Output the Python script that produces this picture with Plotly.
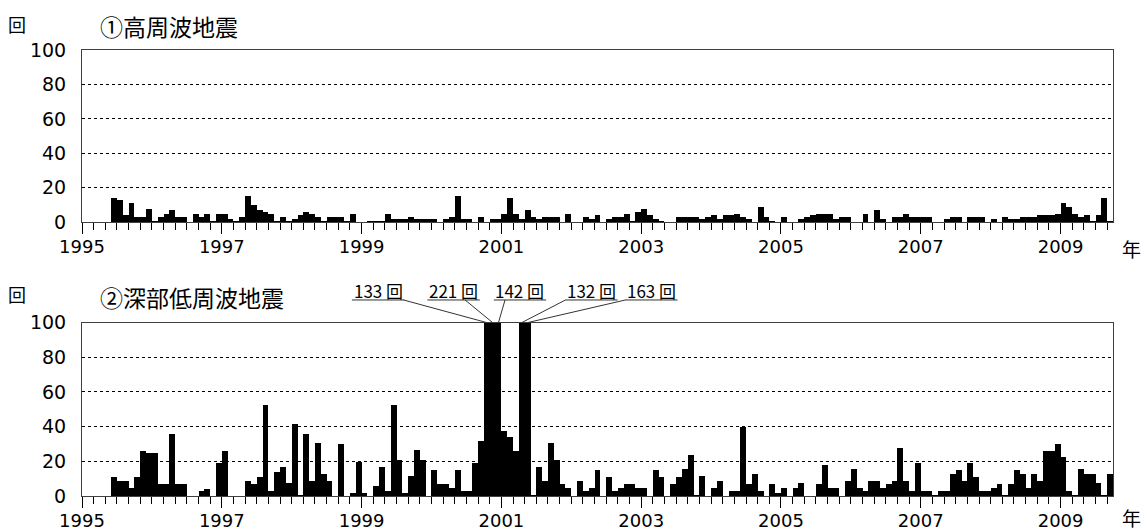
import plotly.graph_objects as go

# ---- data (monthly counts, starting June 1995) ----
start_year = 1995
start_month = 6

high_freq = [
    14, 13, 4, 11, 3, 3, 8, 1, 3, 5,
    7, 3, 3, 0, 5, 3, 5, 1, 5, 5,
    2, 1, 3, 15, 10, 7, 6, 5, 1, 3,
    1, 2, 4, 6, 5, 3, 1, 3, 3, 3,
    1, 5, 0, 0, 1, 1, 1, 5, 2, 2,
    2, 3, 2, 2, 2, 2, 0, 2, 3, 15,
    2, 2, 0, 3, 0, 2, 2, 5, 14, 5,
    2, 7, 3, 2, 3, 3, 3, 0, 5, 0,
    0, 3, 2, 4, 0, 2, 3, 3, 5, 1,
    6, 8, 4, 2, 1, 0, 0, 3, 3, 3,
    3, 2, 3, 4, 2, 4, 4, 5, 3, 2,
    0, 9, 3, 1, 0, 3, 0, 0, 2, 3,
    4, 5, 5, 5, 2, 3, 3, 0, 0, 5,
    0, 7, 2, 0, 3, 3, 5, 3, 3, 3,
    3, 0, 0, 2, 3, 3, 0, 3, 3, 3,
    0, 2, 0, 3, 2, 2, 3, 3, 3, 4,
    4, 4, 5, 11, 9, 5, 3, 4, 1, 4, 14, 1,
]

deep_low_freq = [
    11, 9, 9, 5, 11, 26, 25, 25, 7, 7,
    36, 7, 7, 0, 0, 3, 4, 0, 19, 26,
    0, 0, 0, 9, 7, 11, 53, 3, 14, 17,
    8, 42, 1, 36, 9, 31, 13, 9, 0, 30,
    0, 2, 20, 2, 0, 6, 17, 3, 53, 21,
    2, 12, 27, 21, 0, 15, 7, 7, 5, 15,
    3, 3, 19, 32, 133, 221, 142, 38, 34, 26,
    132, 163, 1, 17, 9, 31, 21, 7, 5, 0,
    9, 3, 5, 15, 0, 11, 3, 5, 7, 7,
    5, 5, 0, 15, 11, 0, 7, 11, 16, 24,
    1, 12, 0, 5, 9, 0, 3, 3, 40, 7,
    13, 3, 0, 7, 2, 5, 0, 5, 8, 0,
    0, 7, 18, 5, 5, 0, 9, 16, 5, 3,
    9, 9, 5, 7, 9, 28, 9, 3, 19, 3,
    3, 1, 3, 3, 13, 15, 9, 19, 11, 3,
    3, 5, 7, 1, 7, 15, 13, 5, 13, 9,
    26, 26, 30, 23, 3, 1, 16, 13, 13, 8, 1, 13,
]

year_ticks = [1995, 1997, 1999, 2001, 2003, 2005, 2007, 2009]
y_ticks = [0, 20, 40, 60, 80, 100]
title_top = "①高周波地震"
title_bottom = "②深部低周波地震"
unit_y = "回"
unit_x = "年"
y_max = 100

# ---- derived positions ----
x_months = [start_year + (start_month - 1 + i + 0.5) / 12 for i in range(len(high_freq))]

fig = go.Figure()
fig.add_trace(go.Bar(x=x_months, y=high_freq, width=1 / 12, marker=dict(color="black", line=dict(width=0)),
                     xaxis="x", yaxis="y", showlegend=False))
fig.add_trace(go.Bar(x=x_months, y=deep_low_freq, width=1 / 12, marker=dict(color="black", line=dict(width=0)),
                     xaxis="x2", yaxis="y2", showlegend=False))

num_font = dict(family="DejaVu Sans", size=19, color="black")
xnum_font = dict(family="DejaVu Sans", size=18, color="black")
jp_font = dict(family="Noto Sans CJK JP", size=23, color="black")
frame = "#404040"

xcommon = dict(
    type="linear", range=[1995, 2009.75], tickmode="array", tickvals=year_ticks,
    ticktext=[str(t) for t in year_ticks], ticks="outside", ticklen=11, tickwidth=1, tickcolor="black",
    minor=dict(tick0=1995, dtick=1 / 6, ticks="outside", ticklen=7, tickwidth=1, tickcolor="black", showgrid=False),
    showline=True, linecolor=frame, linewidth=1, mirror=True, showgrid=False, zeroline=False,
    tickfont=xnum_font, ticklabelstandoff=-3,
)
ycommon = dict(
    range=[0, y_max], tickmode="array", tickvals=y_ticks, ticks="outside", ticklen=11,
    tickcolor="rgba(0,0,0,0)", showline=True, linecolor=frame,
    linewidth=1, mirror=True, showgrid=True, gridcolor="black", griddash="3px,3px", gridwidth=1,
    zeroline=False, tickfont=num_font,
)

dom_top = [0.6137, 1.0]
dom_bot = [0.0, 0.3888]

fig.update_layout(
    width=1147, height=531, margin=dict(l=82, r=34, t=50, b=35, autoexpand=False),
    paper_bgcolor="white", plot_bgcolor="white", bargap=0, barmode="overlay",
    xaxis=dict(xcommon, domain=[0, 1], anchor="y"),
    yaxis=dict(ycommon, domain=dom_top, anchor="x"),
    xaxis2=dict(xcommon, domain=[0, 1], anchor="y2"),
    yaxis2=dict(ycommon, domain=dom_bot, anchor="x2"),
)

ann = []
ann.append(dict(text=title_top, x=0.0155, y=1.0538, xref="paper", yref="paper", xanchor="left",
                yanchor="middle", showarrow=False, font=jp_font))
ann.append(dict(text=title_bottom, x=0.0155, y=0.4462, xref="paper", yref="paper", xanchor="left",
                yanchor="middle", showarrow=False, font=jp_font))
for yy in (1.0583, 0.4529):
    ann.append(dict(text=unit_y, x=-0.063, y=yy, xref="paper", yref="paper", xanchor="center",
                    yanchor="middle", showarrow=False, font=dict(family="Noto Sans CJK JP", size=18, color="black")))
for yy in (0.556, -0.0493):
    ann.append(dict(text=unit_x, x=1.0175, y=yy, xref="paper", yref="paper", xanchor="center",
                    yanchor="middle", showarrow=False, font=dict(family="Noto Sans CJK JP", size=19, color="black")))

# labels for clipped bars
over_idx = [i for i, v in enumerate(deep_low_freq) if v > y_max]
label_centers = [1999.236, 2000.316, 2001.266, 2002.288, 2003.146]
leader_starts = [1999.600, 2000.480, 2001.052, 2001.917, 2002.775]
half_w = 0.375
label_y = 0.4603
line_y = 0.4395
shapes = []
for k, i in enumerate(over_idx):
    v = deep_low_freq[i]
    cx = label_centers[k]
    ann.append(dict(text=f"{v} 回", x=cx, y=label_y, xref="x2", yref="paper", xanchor="center",
                    yanchor="middle", showarrow=False,
                    font=dict(family="Noto Sans CJK JP", size=17, color="black")))
    shapes.append(dict(type="line", xref="x2", yref="paper", x0=cx - half_w, x1=cx + half_w,
                       y0=line_y, y1=line_y, line=dict(color="#333", width=1)))
    shapes.append(dict(type="line", xref="x2", yref="paper", x0=leader_starts[k], y0=line_y,
                       x1=x_months[i], y1=dom_bot[1], line=dict(color="#333", width=1)))

fig.update_layout(annotations=ann, shapes=shapes)
fig.write_html("out.html", config={"displayModeBar": False},
               post_script="document.body.style.margin='0';document.body.style.overflow='hidden';")
